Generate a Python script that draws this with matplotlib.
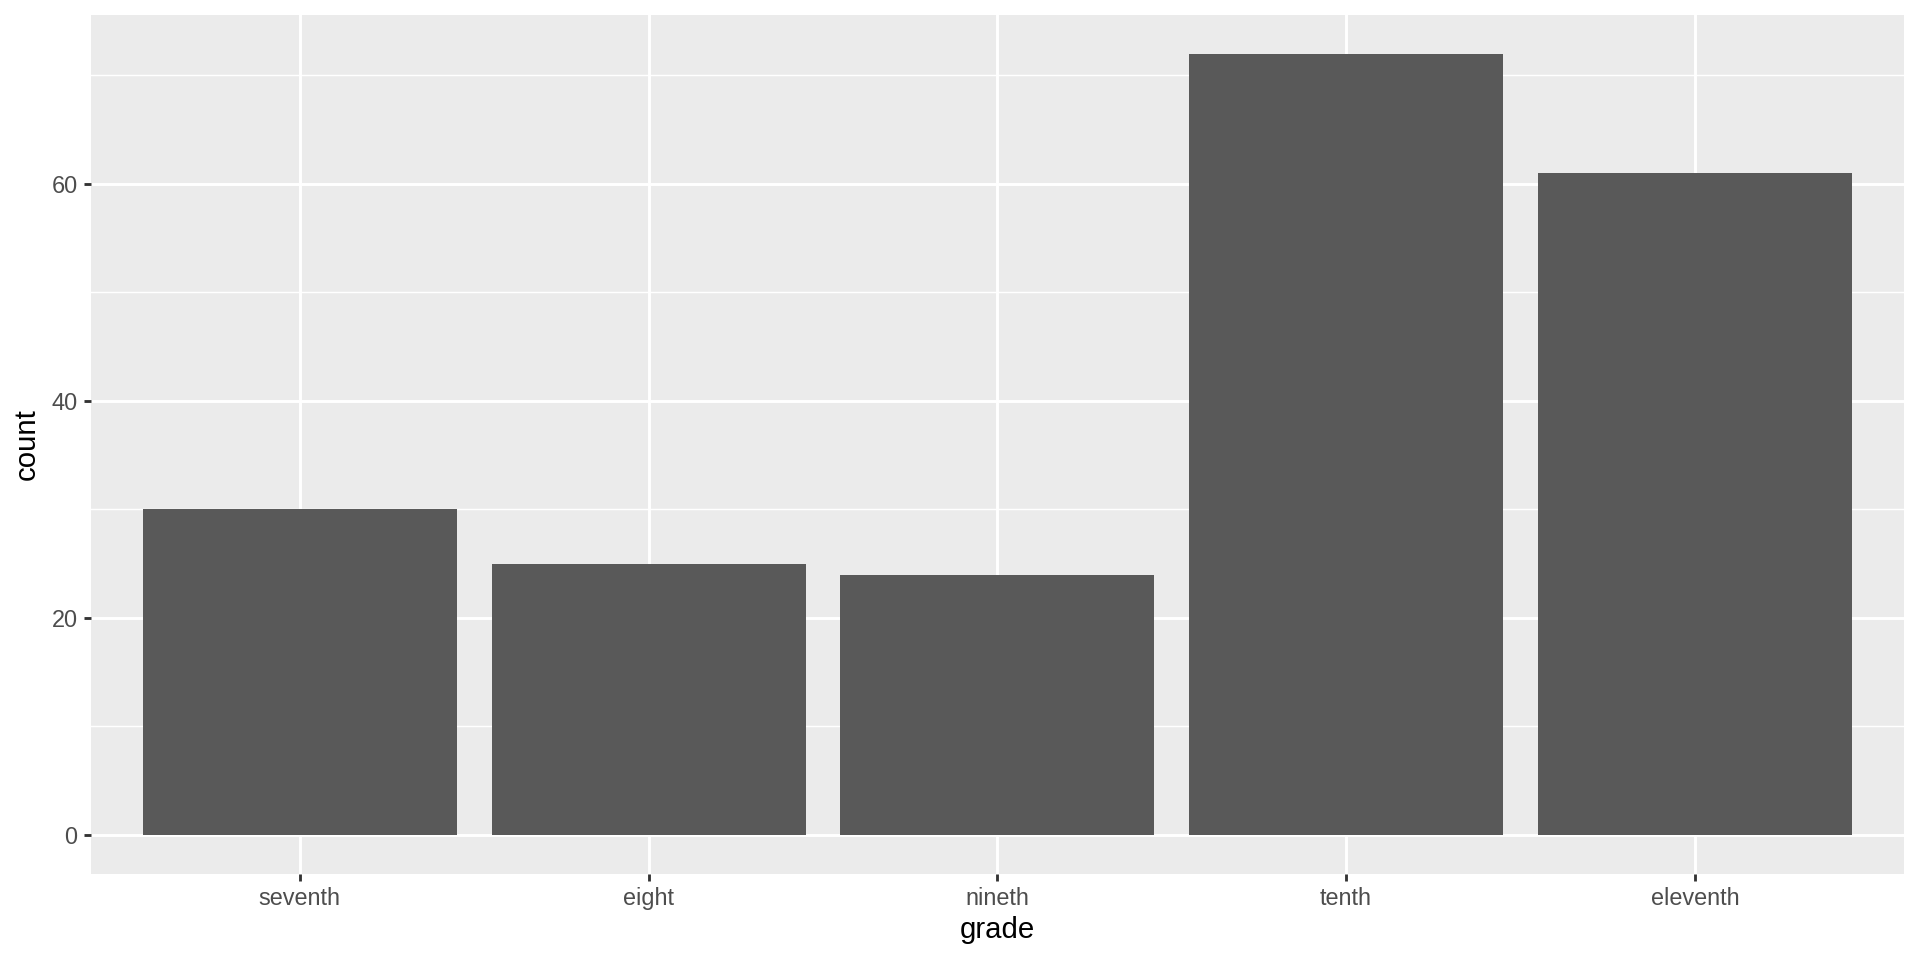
import matplotlib
matplotlib.use("Agg")
import matplotlib.pyplot as plt
import numpy as np

# -> data
grades = ["seventh", "eight", "nineth", "tenth", "eleventh"]
counts = [30, 25, 24, 72, 61]
y_ticks = [0, 20, 40, 60]
y_minor = [10, 30, 50, 70]

plt.rcParams["font.family"] = ["Liberation Sans", "DejaVu Sans"]

fig = plt.figure(figsize=(10, 5), dpi=192)
ax = fig.add_axes([0.0472, 0.0896, 0.9917 - 0.0472, 0.9847 - 0.0896])
ax.set_facecolor("#EBEBEB")

x = np.arange(1, len(grades) + 1)
ax.bar(x, counts, width=0.9, color="#595959", linewidth=0, zorder=3)

top = max(counts)
ax.set_xlim(0.4, len(grades) + 0.6)
ax.set_ylim(-0.05 * top, 1.05 * top)

# -> ggplot-ish grid
for v in y_minor:
    ax.axhline(v, color="white", lw=0.55, zorder=1)
for v in y_ticks:
    ax.axhline(v, color="white", lw=1.1, zorder=1)
for v in x:
    ax.axvline(v, color="white", lw=1.1, zorder=1)

ax.set_xticks(x)
ax.set_xticklabels(grades)
ax.set_yticks(y_ticks)
ax.tick_params(axis="both", length=2.75, width=1.07, color="#333333",
               labelsize=8.8, labelcolor="#4D4D4D", pad=2.2)

for s in ax.spines.values():
    s.set_visible(False)

ax.set_xlabel("grade", fontsize=11, color="black", labelpad=2)
ax.set_ylabel("count", fontsize=11, color="black", labelpad=4)

fig.savefig("out.png", dpi=192, facecolor="white")
